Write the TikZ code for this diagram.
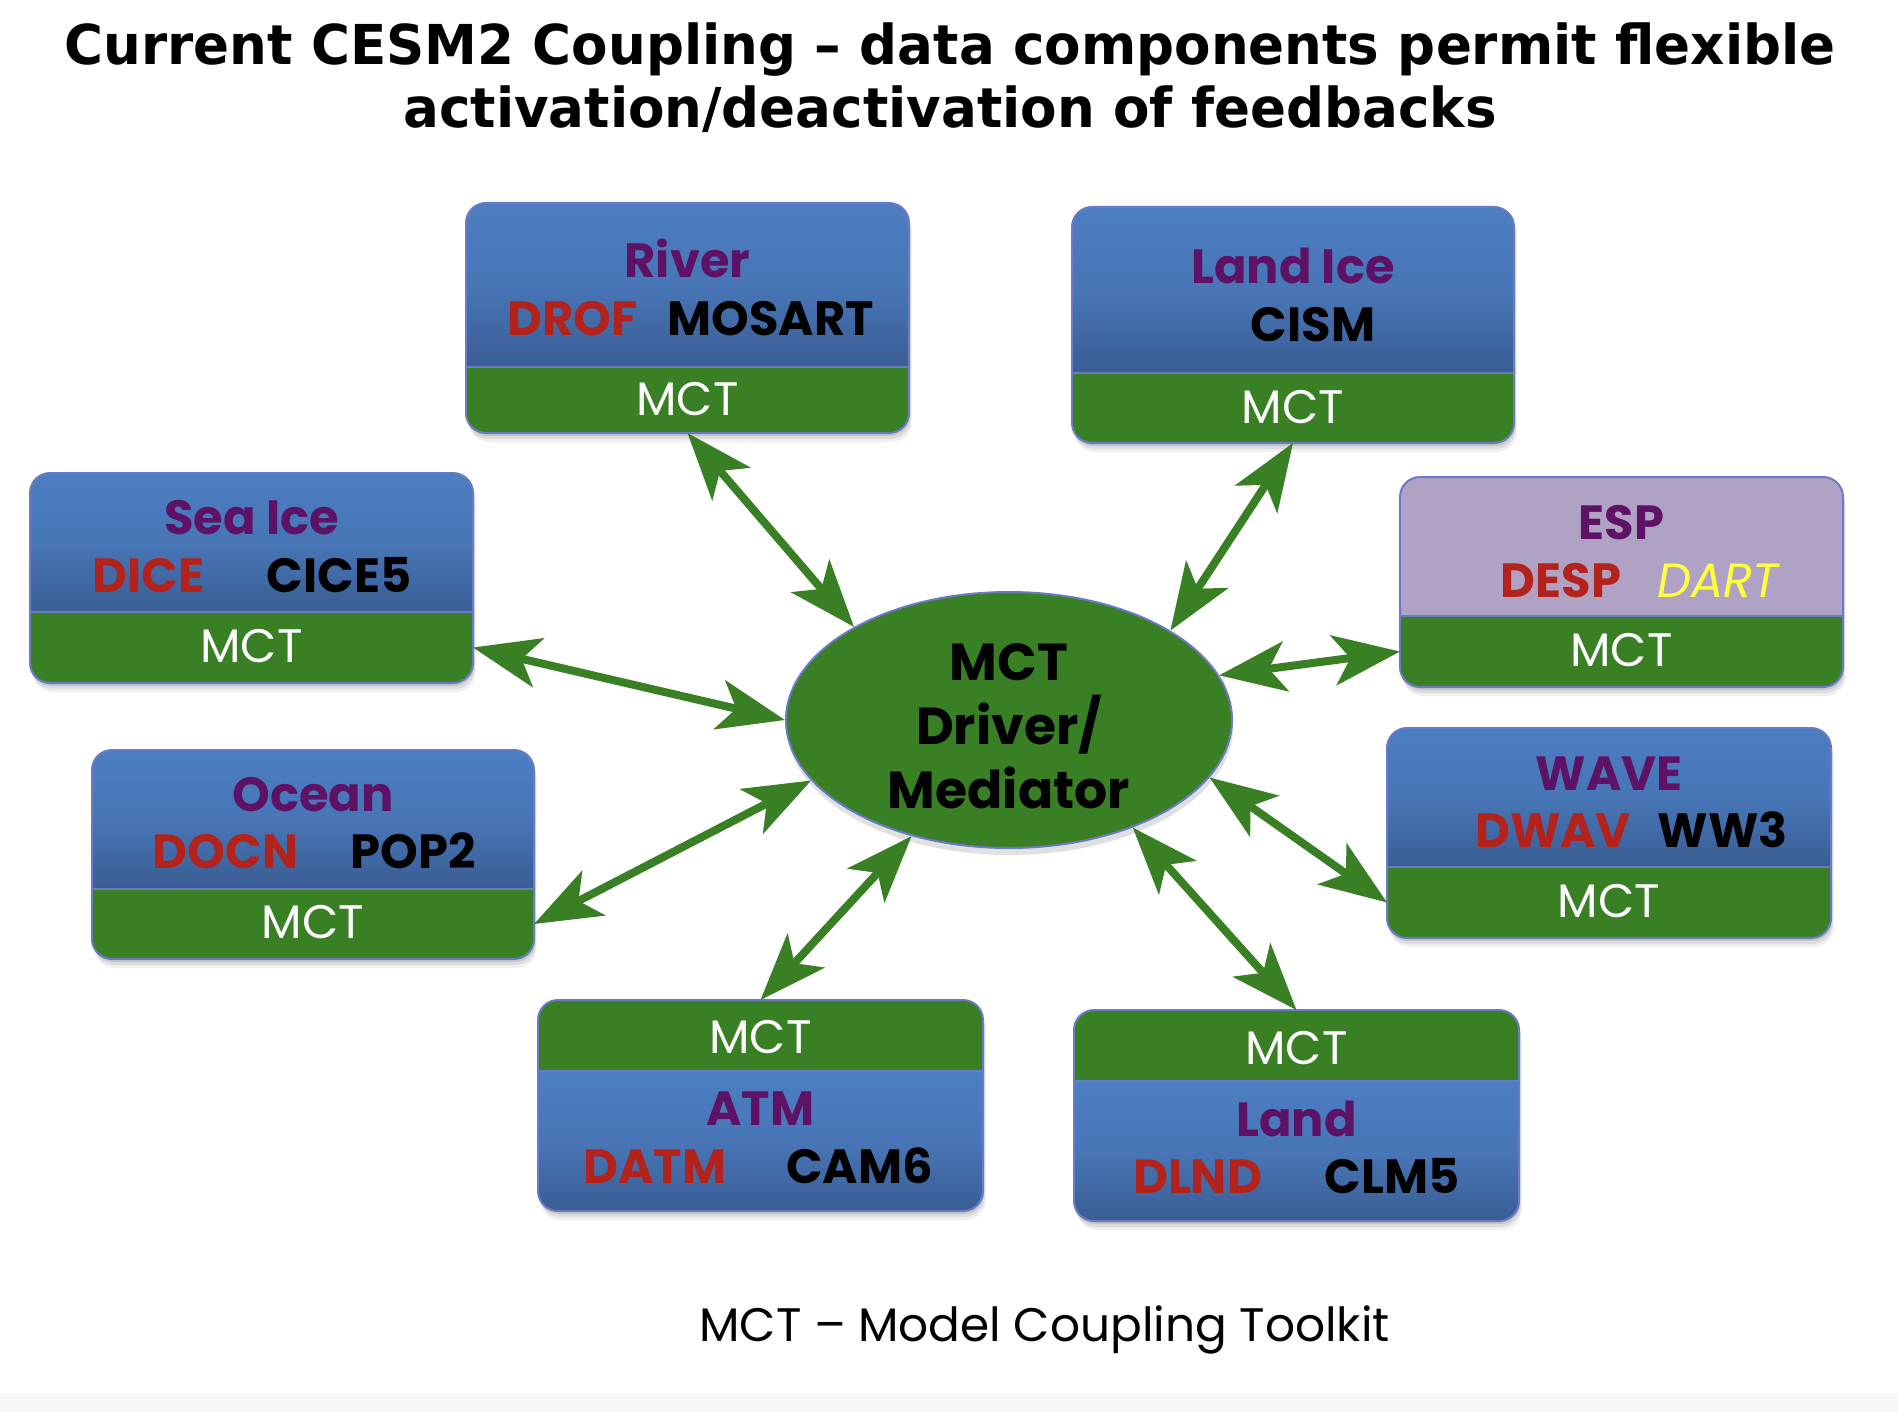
\documentclass[tikz,border=0pt]{standalone}
\usepackage{fontspec}
\setmainfont{Poppins}
\newfontfamily\titlefont{DejaVu Sans}
\usetikzlibrary{arrows.meta,shapes.geometric,fit}
\definecolor{blueT}{RGB}{76,126,194}
\definecolor{blueB}{RGB}{58,93,148}
\definecolor{mctgreen}{RGB}{57,127,35}
\definecolor{edgec}{RGB}{106,122,196}
\definecolor{purp}{RGB}{94,18,102}
\definecolor{dred}{RGB}{180,34,28}
\definecolor{lav}{RGB}{176,162,196}
\definecolor{yel}{RGB}{255,255,64}
\newcommand\compbox[6]{%
  \foreach \s/\o in {3/0.10,6/0.08,9/0.06}{\fill[black,opacity=\o,rounded corners=10pt] (#1+\s*0.3,#2+\s) rectangle (#3+\s*0.3,#4+\s);}
  \begin{scope}
    \clip[rounded corners=10pt] (#1,#2) rectangle (#3,#4);
    \path[#6] (#1,#2) rectangle (#3,#5);
    \path[mctfill] (#1,#5) rectangle (#3,#4);
  \end{scope}
  \draw[boxedge] (#1,#5) -- (#3,#5);
  \draw[boxedge,rounded corners=10pt] (#1,#2) rectangle (#3,#4);
}
\newcommand\compboxb[6]{%
  \foreach \s/\o in {3/0.10,6/0.08,9/0.06}{\fill[black,opacity=\o,rounded corners=10pt] (#1+\s*0.3,#2+\s) rectangle (#3+\s*0.3,#4+\s);}
  \begin{scope}
    \clip[rounded corners=10pt] (#1,#2) rectangle (#3,#4);
    \path[mctfill] (#1,#2) rectangle (#3,#5);
    \path[#6] (#1,#5) rectangle (#3,#4);
  \end{scope}
  \draw[boxedge] (#1,#5) -- (#3,#5);
  \draw[boxedge,rounded corners=10pt] (#1,#2) rectangle (#3,#4);
}
\tikzset{
  bluefill/.style={top color=blueT, bottom color=blueB, middle color=blueT!75!blueB, shading angle=0},
  lavfill/.style={fill=lav},
  mctfill/.style={fill=mctgreen},
  boxedge/.style={draw=edgec, line width=1pt},
  part/.style={inner sep=0pt, outer sep=0pt},
  ttl/.style={inner sep=0pt, anchor=base, text=purp, font=\bfseries\fontsize{24pt}{29pt}\selectfont},
  dat/.style={inner sep=0pt, anchor=base, text=dred, font=\bfseries\fontsize{24pt}{29pt}\selectfont},
  mdl/.style={inner sep=0pt, anchor=base, text=black, font=\bfseries\fontsize{24pt}{29pt}\selectfont},
  mctl/.style={inner sep=0pt, anchor=base, text=white, font=\fontsize{23.5pt}{28pt}\selectfont},
  ell/.style={inner sep=0pt, anchor=base, text=black, font=\bfseries\fontsize{26pt}{32pt}\selectfont},
  ttlfont/.style={inner sep=0pt, anchor=base, font=\titlefont\bfseries\fontsize{27.5pt}{32pt}\selectfont},
  arr/.style={draw=mctgreen, line width=4pt,
    {Stealth[length=33.5pt, width=25pt, inset=8.5pt]}-{Stealth[length=33.5pt, width=25pt, inset=8.5pt]}},
}
\begin{document}
\begin{tikzpicture}[x=0.5pt,y=-0.5pt]
\useasboundingbox (0,0) rectangle (1898,1412);
\fill[white] (0,0) rectangle (1898,1412);
\fill[black!3] (0,1393) rectangle (1898,1412);

% title
\node[ttlfont] (title1) at (950,65) {\scalebox{0.965}[1]{Current CESM2 Coupling – data components permit flexible}};
\node[ttlfont] (title2) at (950,128) {\scalebox{0.965}[1]{activation/deactivation of feedbacks}};

% River
\compbox{466}{203}{909}{433}{367}{bluefill}
\node[part, fit={(466,203)(909,367)}] (river) {};
\node[part, fit={(466,367)(909,433)}] (riverm) {};
\node[ttl] (rivert) at (687.5,277) {River};
\node[dat] (drof) at (572.5,335) {DROF};
\node[mdl] (mosart) at (770.5,335) {MOSART};
\node[mctl] (rivermt) at (687.5,415) {MCT};

% Land Ice
\compbox{1072}{207}{1514}{443}{373}{bluefill}
\node[part, fit={(1072,207)(1514,373)}] (landice) {};
\node[part, fit={(1072,373)(1514,443)}] (landicem) {};
\node[ttl] (landicet) at (1293,283) {Land Ice};
\node[mdl] (cism) at (1313,341) {CISM};
\node[mctl] (landicemt) at (1293,423) {MCT};

% Sea Ice
\compbox{30}{473}{473}{683}{612}{bluefill}
\node[part, fit={(30,473)(473,612)}] (seaice) {};
\node[part, fit={(30,612)(473,683)}] (seaicem) {};
\node[ttl] (seaicet) at (251.5,534) {Sea Ice};
\node[dat] (dice) at (148.5,592) {DICE};
\node[mdl] (cice) at (339,592) {CICE5};
\node[mctl] (seaicemt) at (251.5,662) {MCT};

% ESP
\compbox{1400}{477}{1843}{687}{616}{lavfill}
\node[part, fit={(1400,477)(1843,616)}] (esp) {};
\node[part, fit={(1400,616)(1843,687)}] (espm) {};
\node[ttl] (espt) at (1621.5,539) {ESP};
\node[dat] (desp) at (1561,597) {DESP};
\node[inner sep=0pt, anchor=base, text=yel, font=\itshape\fontsize{24pt}{29pt}\selectfont] (dart) at (1718,597) {DART};
\node[mctl] (espmt) at (1621.5,666) {MCT};

% Ocean
\compbox{92}{750}{534}{959}{889}{bluefill}
\node[part, fit={(92,750)(534,889)}] (ocean) {};
\node[part, fit={(92,889)(534,959)}] (oceanm) {};
\node[ttl] (oceant) at (313,811) {Ocean};
\node[dat] (docn) at (225.5,868) {DOCN};
\node[mdl] (pop) at (413.5,868) {POP2};
\node[mctl] (oceanmt) at (313,938) {MCT};

% WAVE
\compbox{1387}{728}{1831}{938}{867}{bluefill}
\node[part, fit={(1387,728)(1831,867)}] (wave) {};
\node[part, fit={(1387,867)(1831,938)}] (wavem) {};
\node[ttl] (wavet) at (1609,790) {WAVE};
\node[dat] (dwav) at (1553,847) {DWAV};
\node[mdl] (ww) at (1722.5,847) {WW3};
\node[mctl] (wavemt) at (1609,917) {MCT};

% ATM
\compboxb{538}{1000}{983}{1211}{1071}{bluefill}
\node[part, fit={(538,1000)(983,1071)}] (atmm) {};
\node[part, fit={(538,1071)(983,1211)}] (atm) {};
\node[mctl] (atmmt) at (760.5,1053) {MCT};
\node[ttl] (atmt) at (760.5,1125) {ATM};
\node[dat] (datm) at (655,1183) {DATM};
\node[mdl] (cam) at (859.5,1183) {CAM6};

% Land
\compboxb{1074}{1010}{1519}{1221}{1081}{bluefill}
\node[part, fit={(1074,1010)(1519,1081)}] (landm) {};
\node[part, fit={(1074,1081)(1519,1221)}] (land) {};
\node[mctl] (landmt) at (1296.5,1064) {MCT};
\node[ttl] (landt) at (1296.5,1136) {Land};
\node[dat] (dlnd) at (1197.5,1193) {DLND};
\node[mdl] (clm) at (1392,1193) {CLM5};

% central ellipse
\fill[black,opacity=0.12] (1010,727) ellipse [x radius=223, y radius=128];
\node[ellipse, fill=mctgreen, draw=edgec, line width=1pt, minimum width=223pt, minimum height=128pt, inner sep=0pt] (mct) at (1009,720) {};
\node[ell] (mct1) at (1009,680) {MCT};
\node[ell] (mct2) at (1009,744) {Driver/};
\node[ell] (mct3) at (1009,808) {Mediator};

% connectors
\draw[arr] (riverm.south) -- (mct.149.8);
\draw[arr] (landicem.south) -- (mct.29.7);
\draw[arr] (espm.west) -- (mct.12.2);
\draw[arr] (wavem.west) -- (mct.-16.1);
\draw[arr] (landm.north) -- (mct.-41);
\draw[arr] (atmm.north) -- (mct.-130.6);
\draw[arr] (oceanm.east) -- (mct.197.7);
\draw[arr] (seaicem.east) -- (mct.180);

% footer
\node[inner sep=0pt, anchor=base, font=\fontsize{23.5pt}{28pt}\selectfont] (footer) at (1044.5,1341) {MCT – Model Coupling Toolkit};
\end{tikzpicture}
\end{document}
